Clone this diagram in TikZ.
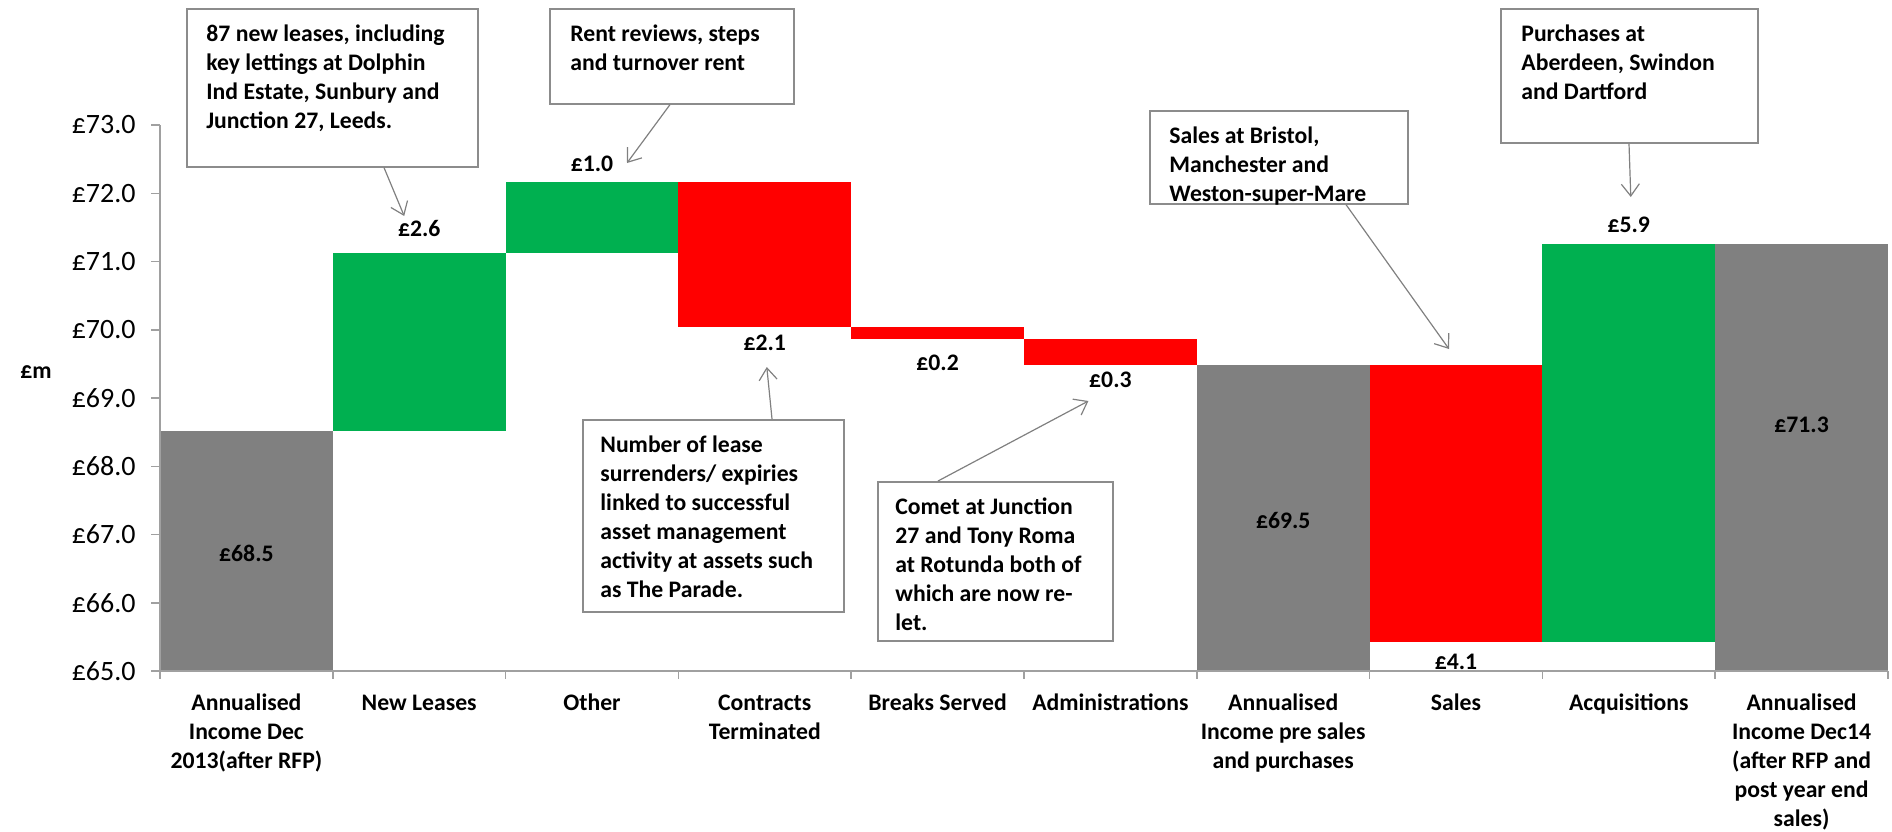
\documentclass[tikz,border=0pt]{standalone}
\usepackage{fontspec}
\setmainfont{Carlito}
\usetikzlibrary{arrows.meta,calc}
\definecolor{barGray}{HTML}{808080}
\definecolor{barGreen}{HTML}{00B050}
\definecolor{barRed}{HTML}{FF0000}
\definecolor{axisGray}{HTML}{A0A0A0}
\definecolor{boxGray}{HTML}{8C8C8C}
\definecolor{arrGray}{HTML}{808080}
\newcommand{\bfs}{\fontsize{11.85pt}{14.5pt}\selectfont\bfseries}
\newcommand{\tfs}{\fontsize{14pt}{17pt}\selectfont}
\newcommand{\catbox}[1]{\parbox[t]{86pt}{\centering\bfs #1}}
\newcommand{\txtbox}[2]{\parbox[t]{#1}{\raggedright\bfs #2}}
\begin{document}
\begin{tikzpicture}[x=0.5pt,y=-0.5pt,
  datalbl/.style={font=\bfs, inner sep=0pt},
  ticklbl/.style={font=\tfs, anchor=east, inner sep=0pt},
  catlbl/.style={anchor=base, inner sep=0pt},
  cbox/.style={draw=boxGray, line width=0.8pt, fill=white, anchor=north west, inner sep=0pt},
  ctext/.style={anchor=base west, inner sep=0pt},
  axis/.style={draw=axisGray, line width=0.75pt},
  conn/.style={draw=arrGray, line width=0.6pt, -{Straight Barb[length=6pt,width=9pt]}}]

\useasboundingbox (0,0) rectangle (1892,831);

% bars
\fill[barGray]  (160,430.8)   rectangle (332.8,671);
\fill[barGreen] (332.8,253.3) rectangle (505.6,430.8);
\fill[barGreen] (505.6,182.3) rectangle (678.4,253.3);
\fill[barRed]   (678.4,182.3) rectangle (851.2,327);
\fill[barRed]   (851.2,327)   rectangle (1024,339.3);
\fill[barRed]   (1024,339.3)  rectangle (1196.8,364.6);
\fill[barGray]  (1196.8,364.6) rectangle (1369.6,671);
\fill[barRed]   (1369.6,364.6) rectangle (1542.4,641.7);
\fill[barGreen] (1542.4,243.8) rectangle (1715.2,641.7);
\fill[barGray]  (1715.2,243.8) rectangle (1888,671);

% axes
\draw[axis] (160,125) -- (160,671) -- (1888,671);
\foreach \k in {0,...,8} \draw[axis] (151,{671-\k*68.25}) -- (160,{671-\k*68.25});
\foreach \i in {0,...,10} \draw[axis] ({160+\i*172.8},671) -- ++(0,8);
\foreach \k/\v in {0/65,1/66,2/67,3/68,4/69,5/70,6/71,7/72,8/73}
  \node[ticklbl] (tick\k) at (136,{671-\k*68.25}) {£\v.0};
\node[datalbl] (unit) at (36,372) {£m};

% category labels
\node[catlbl] (c1) at (246.4,710) {\catbox{Annualised\\Income Dec\\2013(after RFP)}};
\node[catlbl] (c2) at (419.2,710) {\catbox{New Leases}};
\node[catlbl] (c3) at (592,710) {\catbox{Other}};
\node[catlbl] (c4) at (764.8,710) {\catbox{Contracts\\Terminated}};
\node[catlbl] (c5) at (937.6,710) {\catbox{Breaks Served}};
\node[catlbl] (c6) at (1110.4,710) {\catbox{Administrations}};
\node[catlbl] (c7) at (1283.2,710) {\catbox{Annualised\\Income pre sales\\and purchases}};
\node[catlbl] (c8) at (1456,710) {\catbox{Sales}};
\node[catlbl] (c9) at (1628.8,710) {\catbox{Acquisitions}};
\node[catlbl] (c10) at (1801.6,710) {\catbox{Annualised\\Income Dec14\\(after RFP and\\post year end\\sales)}};

% data labels
\node[datalbl] (l685) at (246.4,553) {£68.5};
\node[datalbl] (l26)  at (419.2,228) {£2.6};
\node[datalbl] (l10)  at (592,164) {£1.0};
\node[datalbl] (l21)  at (764.8,343) {£2.1};
\node[datalbl] (l02)  at (937.6,363) {£0.2};
\node[datalbl] (l03)  at (1110.4,380) {£0.3};
\node[datalbl] (l695) at (1283.2,520) {£69.5};
\node[datalbl] (l41)  at (1456,662) {£4.1};
\node[datalbl] (l59)  at (1628.8,225) {£5.9};
\node[datalbl] (l713) at (1801.6,425) {£71.3};

% callout boxes
\node[cbox, minimum width=145.5pt, minimum height=79pt] (b1) at (186,8) {};
\node[ctext] (b1t) at ($(b1.north west)+(20,33)$) {\txtbox{130pt}{87 new leases, including\\key lettings at Dolphin\\Ind Estate, Sunbury and\\Junction 27, Leeds.}};
\node[cbox, minimum width=122pt, minimum height=47.5pt] (b2) at (549,8) {};
\node[ctext] (b2t) at ($(b2.north west)+(21,33)$) {\txtbox{110pt}{Rent reviews, steps\\and turnover rent}};
\node[cbox, minimum width=130.5pt, minimum height=96pt] (b3) at (582,419) {};
\node[ctext] (b3t) at ($(b3.north west)+(18,33)$) {\txtbox{120pt}{Number of lease\\surrenders/ expiries\\linked to successful\\asset management\\activity at assets such\\as The Parade.}};
\node[cbox, minimum width=117.5pt, minimum height=79.5pt] (b4) at (877,481) {};
\node[ctext] (b4t) at ($(b4.north west)+(18,33)$) {\txtbox{110pt}{Comet at Junction\\27 and Tony Roma\\at Rotunda both of\\which are now re-\\let.}};
\node[cbox, minimum width=129pt, minimum height=46.5pt] (b5) at (1149,110) {};
\node[ctext] (b5t) at ($(b5.north west)+(20,33)$) {\txtbox{115pt}{Sales at Bristol,\\Manchester and\\Weston-super-Mare}};
\node[cbox, minimum width=128.5pt, minimum height=67pt] (b6) at (1500,8) {};
\node[ctext] (b6t) at ($(b6.north west)+(21,33)$) {\txtbox{115pt}{Purchases at\\Aberdeen, Swindon\\and Dartford}};

% connectors
\coordinate (salesTop) at (1449,349);
\draw[conn] ($(b1.south west)+(198,0)$) -- ($(l26.center)+(-15,-12)$);
\draw[conn] ($(b2.south west)+(121,0)$) -- ($(l10.center)+(35,-1)$);
\draw[conn] ($(b3.north west)+(190,0)$) -- ($(l21.center)+(2,24)$);
\draw[conn] ($(b4.north west)+(61,0)$) -- ($(l03.center)+(-22,21)$);
\draw[conn] ($(b5.south west)+(197,0)$) -- (salesTop);
\draw[conn] ($(b6.south west)+(129,0)$) -- ($(l59.center)+(2,-28)$);
\end{tikzpicture}
\end{document}
